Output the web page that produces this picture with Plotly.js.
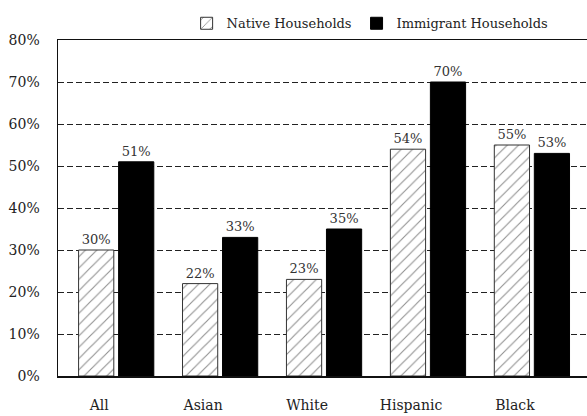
<!DOCTYPE html>
<html>
<head>
<meta charset="utf-8">
<script src="https://cdn.plot.ly/plotly-3.0.1.min.js"></script>
<style>html,body{margin:0;padding:0;background:#fff;}#chart{width:587px;height:416px;}</style>
</head>
<body>
<div id="chart"></div>
<script>
var categories = ["All", "Asian", "White", "Hispanic", "Black"];
var nativeValues = [30, 22, 23, 54, 55];
var immigrantValues = [51, 33, 35, 70, 53];
var yTickValues = [0, 10, 20, 30, 40, 50, 60, 70, 80];
var yTickLabels = ["0%", "10%", "20%", "30%", "40%", "50%", "60%", "70%", "80%"];

var serif = "DejaVu Serif";

var traces = [
  {
    type: "bar",
    name: "Native Households",
    x: categories,
    y: nativeValues,
    text: nativeValues.map(function(v){ return v + "%"; }),
    textposition: "outside",
    cliponaxis: false,
    textfont: {family: serif, size: 13, color: "#333"},
    marker: {
      color: "#fff",
      pattern: {shape: "/", fgcolor: "#222", bgcolor: "#fff", size: 8, solidity: 0.14, fillmode: "overlay"},
      line: {color: "#333", width: 1}
    },
    hoverinfo: "skip"
  },
  {
    type: "bar",
    name: "Immigrant Households",
    x: categories,
    y: immigrantValues,
    text: immigrantValues.map(function(v){ return v + "%"; }),
    textposition: "outside",
    cliponaxis: false,
    textfont: {family: serif, size: 13, color: "#333"},
    marker: {color: "#000", line: {color: "#000", width: 1}},
    hoverinfo: "skip"
  }
];

var layout = {
  width: 587,
  height: 416,
  margin: {l: 58, r: 0, t: 40, b: 40},
  paper_bgcolor: "#fff",
  plot_bgcolor: "#fff",
  font: {family: serif, size: 14, color: "#222"},
  barmode: "group",
  bargap: 0.23,
  bargroupgap: 0.12,
  showlegend: true,
  legend: {
    orientation: "h",
    x: 0.59, xanchor: "center",
    y: 1.005, yanchor: "bottom",
    bgcolor: "rgba(0,0,0,0)",
    font: {family: serif, size: 13, color: "#222"},
    itemwidth: 30,
    traceorder: "normal"
  },
  xaxis: {
    type: "category",
    range: [-0.56, 4.53],
    showgrid: false,
    showline: true,
    linecolor: "#111",
    linewidth: 1.5,
    mirror: true,
    ticks: "",
    ticklabelstandoff: 16,
    ticklabelshift: -17,
    tickfont: {family: serif, size: 14, color: "#222"},
    fixedrange: true
  },
  yaxis: {
    range: [0, 80],
    tickvals: yTickValues,
    ticktext: yTickLabels,
    showgrid: true,
    gridcolor: "#222",
    griddash: "6px,3px",
    gridwidth: 1,
    zeroline: false,
    showline: true,
    linecolor: "#111",
    linewidth: 1.5,
    ticks: "",
    ticklabelstandoff: 14,
    tickfont: {family: serif, size: 14, color: "#222"},
    fixedrange: true
  }
};

Plotly.newPlot("chart", traces, layout, {displayModeBar: false, staticPlot: true});
</script>
</body>
</html>
